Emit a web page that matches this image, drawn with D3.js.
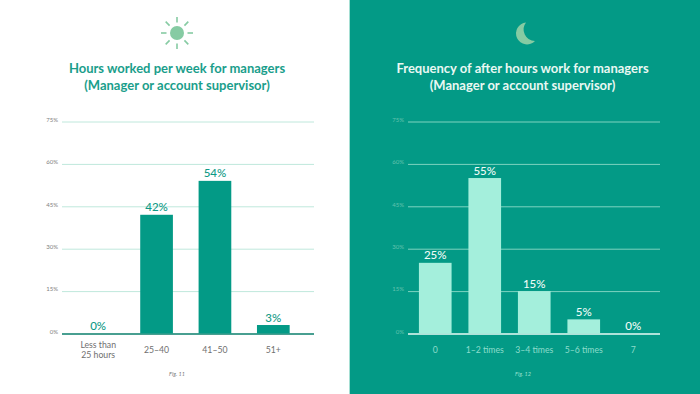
<!DOCTYPE html>
<html>
<head>
<meta charset="utf-8">
<script src="https://cdn.jsdelivr.net/npm/d3@7"></script>
<style>
    html, body { margin: 0; padding: 0; background: #fff; }
    svg { display: block; font-family: Lato, sans-serif; }
    .domain { display: none; }
</style>
</head>
<body>
<svg id="chart"></svg>
<script>
const hoursCategories = [['Less than', '25 hours'], ['25–40'], ['41–50'], ['51+']];
const hoursValues = [0, 42, 54, 3];
const afterCategories = [['0'], ['1–2 times'], ['3–4 times'], ['5–6 times'], ['7']];
const afterValues = [25, 55, 15, 5, 0];
const yTicks = [0, 15, 30, 45, 60, 75];

const width = 700;
const height = 394;
const teal = '#039a86';

const svg = d3.select('#chart').attr('width', width).attr('height', height);

svg.append('rect').attr('width', 350).attr('height', height).attr('fill', '#fff');
svg.append('rect').attr('x', 350).attr('width', 350).attr('height', height).attr('fill', teal);
svg.append('rect').attr('x', 349).attr('width', 1).attr('height', height).attr('fill', '#a5dfd3');

// Shared y scale, both panels use the same plot height
const yScale = d3.scaleLinear().domain([0, 75]).range([333.5, 121.5]);

function drawPanel(o) {
    const g = svg.append('g');

    // Title
    g.selectAll('.title')
        .data(o.title)
        .join('text')
        .attr('class', 'title')
        .attr('x', o.titleX)
        .attr('y', (d, i) => 72.5 + i * 17.5)
        .attr('text-anchor', 'middle')
        .attr('font-size', 13)
        .attr('font-weight', 700)
        .attr('fill', o.titleColor)
        .text(d => d);

    // Grid lines and y labels
    const yAxis = g.append('g')
        .attr('transform', `translate(${o.x0}, 0)`)
        .call(d3.axisLeft(yScale).tickValues(yTicks).tickSize(-(o.x1 - o.x0)).tickPadding(4).tickFormat(d => d + '%'));
    yAxis.selectAll('line')
        .attr('stroke', d => d === 0 ? o.baseColor : o.gridColor)
        .attr('stroke-width', d => d === 0 ? 1.3 : 1);
    yAxis.selectAll('text')
        .attr('dy', '-0.05em')
        .attr('font-family', 'Lato, sans-serif')
        .attr('font-size', 6)
        .attr('fill', o.yLabelColor);

    // Bars
    const xScale = d3.scaleBand()
        .domain(o.categories.map(d => d.join(' ')))
        .range(o.bandRange)
        .paddingInner(o.padding)
        .paddingOuter(o.padding / 2);

    const bars = o.values.map((v, i) => ({ key: o.categories[i].join(' '), lines: o.categories[i], value: v }));

    g.selectAll('.bar')
        .data(bars.filter(d => d.value > 0))
        .join('rect')
        .attr('class', 'bar')
        .attr('x', d => xScale(d.key))
        .attr('y', d => yScale(d.value))
        .attr('width', xScale.bandwidth())
        .attr('height', d => yScale(0) - yScale(d.value))
        .attr('fill', o.barColor);

    // Value labels
    g.selectAll('.value')
        .data(bars)
        .join('text')
        .attr('class', 'value')
        .attr('x', d => xScale(d.key) + xScale.bandwidth() / 2)
        .attr('y', d => yScale(d.value) - 3.5)
        .attr('text-anchor', 'middle')
        .attr('font-size', 11.5)
        .attr('font-weight', 500)
        .attr('fill', o.valueColor)
        .text(d => d.value + '%');

    // Category labels
    g.selectAll('.cat')
        .data(bars)
        .join('text')
        .attr('class', 'cat')
        .attr('x', d => xScale(d.key) + xScale.bandwidth() / 2)
        .attr('y', d => d.lines.length > 1 ? 347.5 : 352.5)
        .attr('text-anchor', 'middle')
        .attr('font-size', 8.7)
        .attr('fill', o.catColor)
        .selectAll('tspan')
        .data(d => d.lines)
        .join('tspan')
        .attr('x', function() { return d3.select(this.parentNode).attr('x'); })
        .attr('dy', (d, i) => i ? 10.5 : 0)
        .text(d => d);

    // Figure caption
    g.append('text')
        .attr('x', o.figX)
        .attr('y', 376)
        .attr('text-anchor', 'middle')
        .attr('font-size', 5.5)
        .attr('font-style', 'italic')
        .attr('fill', o.figColor)
        .text(o.fig);
}

drawPanel({
    title: ['Hours worked per week for managers', '(Manager or account supervisor)'],
    titleX: 177,
    titleColor: '#1a9e8b',
    x0: 62, x1: 314,
    bandRange: [69, 302.5],
    padding: 0.44,
    categories: hoursCategories,
    values: hoursValues,
    barColor: teal,
    valueColor: '#0f9a86',
    baseColor: '#0b7f6c',
    gridColor: '#bfe8dc',
    yLabelColor: '#808080',
    catColor: '#6f6f6f',
    fig: 'Fig. 11', figX: 177, figColor: '#777'
});

drawPanel({
    title: ['Frequency of after hours work for managers', '(Manager or account supervisor)'],
    titleX: 522.5,
    titleColor: '#e9f8f3',
    x0: 408, x1: 660,
    bandRange: [410.5, 658],
    padding: 0.34,
    categories: afterCategories,
    values: afterValues,
    barColor: '#a4efdc',
    valueColor: '#f0fbf7',
    baseColor: '#e8faf5',
    gridColor: '#7ed3c0',
    yLabelColor: '#63c2ae',
    catColor: '#8ddccb',
    fig: 'Fig. 12', figX: 523, figColor: '#9be2d2'
});

// Sun icon
const sun = svg.append('g').attr('transform', 'translate(177, 33)');
sun.append('circle').attr('r', 7).attr('fill', '#86cba3');
sun.selectAll('line')
    .data(d3.range(8))
    .join('line')
    .attr('transform', d => `rotate(${d * 45})`)
    .attr('x1', 10.5).attr('x2', 16)
    .attr('stroke', '#86cba3')
    .attr('stroke-width', 1.6);

// Moon icon
svg.append('path')
    .attr('transform', 'translate(524.5, 33.5)')
    .attr('d', 'M1.5 -11 A11 11 0 1 0 10.5 7.5 A11.5 11.5 0 0 1 1.5 -11 Z')
    .attr('fill', '#86cba3');
</script>
</body>
</html>
